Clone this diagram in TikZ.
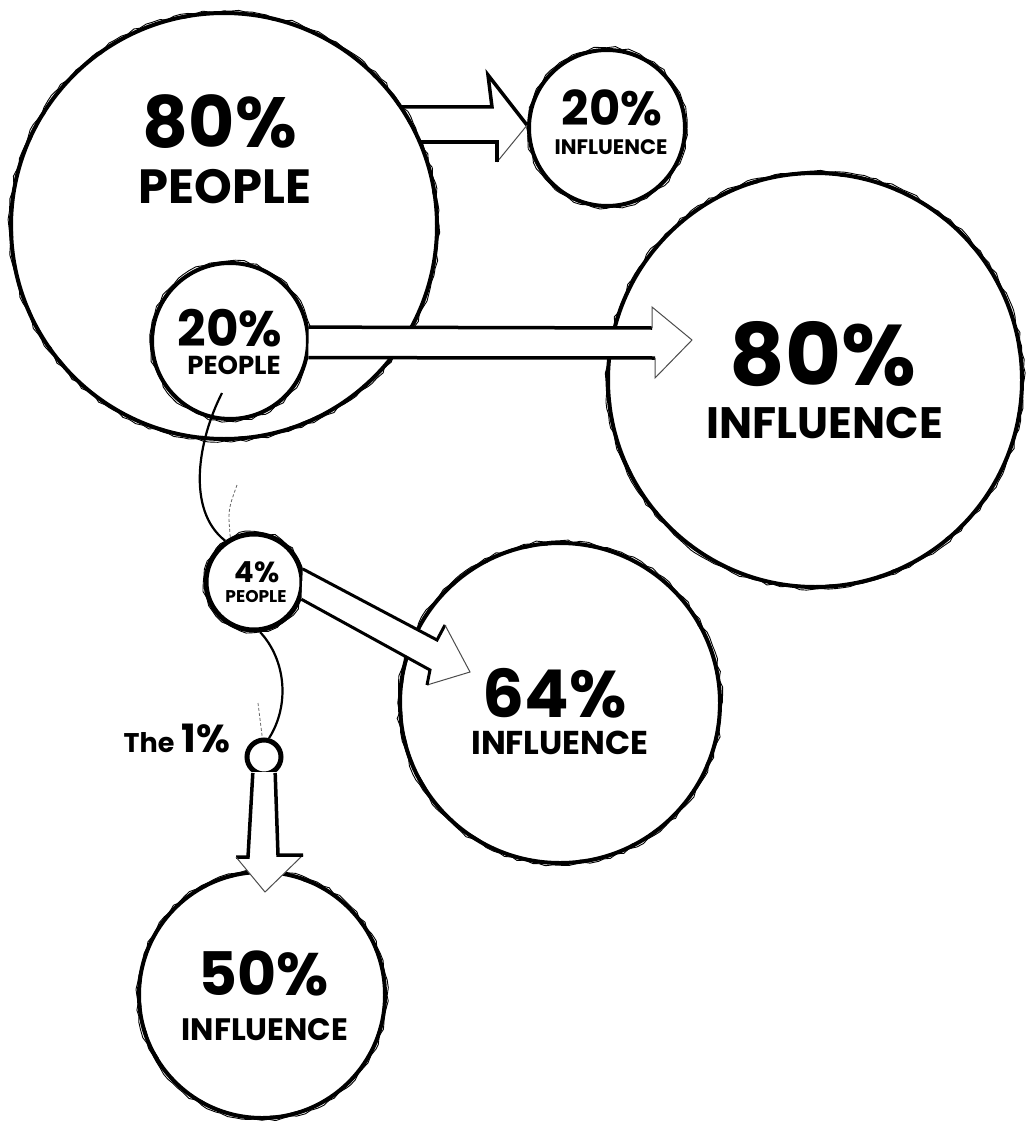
\documentclass[tikz,border=0pt]{standalone}
\usepackage{fontspec}
\setmainfont{Poppins}
\usetikzlibrary{decorations.pathmorphing}
\newcommand\fs[1]{\fontsize{#1}{#1}\selectfont\bfseries}
\tikzset{
  bub/.style={circle, draw=black, line width=4pt, inner sep=0pt, minimum size=#1},
  sketch/.style={draw=black, line width=0.9pt, decorate, decoration={random steps,segment length=7pt,amplitude=1.5pt}},
  lbl/.style={anchor=base, inner sep=0pt},
  thinhead/.style={draw=black!70, line width=1pt},
  conn/.style={draw=black, line width=2.2pt},
  faint/.style={draw=black!60, line width=0.8pt, dash pattern=on 3pt off 2pt},
}
\begin{document}
\begin{tikzpicture}[x=1pt,y=-1pt]
\useasboundingbox (0,0) rectangle (1025,1121);
% circles
\node[bub=426pt] (A) at (224,226) {};
\node[bub=156pt] (B) at (607,128) {};
\node[bub=156pt] (C) at (230,341) {};
\node[bub=414pt] (D) at (815,380) {};
\node[bub=96pt, line width=5pt] (E) at (254,582) {};
\node[bub=320pt] (F) at (560,703) {};
\node[bub=34pt, line width=5pt] (G) at (264,757) {};
\node[bub=246pt] (H) at (262,995) {};
% sketchy overlays
\foreach \n/\r in {A/215,B/80,C/80,D/209,E/50,F/162,H/125}{
  \path[sketch] (\n.center) circle (\r);
  \path[sketch, line width=0.6pt] (\n.center) circle (\r-2.5);
}
% connectors (curves)
\coordinate (c1s) at (222,393);
\draw[conn] (c1s) .. controls (198,440) and (186,510) .. (E.125);
\draw[faint] (237,485) .. controls (228,510) .. (E.118);
\draw[conn] (E.277) .. controls (286,660) and (290,705) .. (G.75);
\draw[faint] (258,703) -- (G.95);
% block arrow 80% people -> 20% influence
\draw[black, line width=3.5pt] (400,107) -- (492,107) -- (488,75) -- (B.178);
\draw[thinhead] (B.178) -- (497,162);
\draw[black, line width=3.5pt] (497,162) -- (497,142) -- (420,142);
% block arrow 20% people -> 80% influence
\fill[white] (C.10) -- (652,328) -- (652,307) -- (692,340) -- (655,378) -- (655,358) -- (C.-12) -- cycle;
\draw[black, line width=3.5pt] (C.10) -- (652,328);
\draw[black, line width=3.5pt] (C.-12) -- (655,358);
\draw[thinhead] (652,328) -- (652,307) -- (692,340) -- (655,378) -- (655,358);
% block arrow 4% people -> 64% influence
\fill[white] (E.15) -- (437,640) -- (445,625) -- (470,672) -- (427,685) -- (430,670) -- (E.-20) -- cycle;
\draw[black, line width=3pt] (E.15) -- (437,640) -- (445,625);
\draw[thinhead] (445,625) -- (470,672) -- (427,685);
\draw[black, line width=3pt] (427,685) -- (430,670) -- (E.-20);
% block arrow 1% -> 50% influence
\fill[white] (248,772) -- (248,857) -- (236,857) -- (265,892) -- (303,855) -- (278,855) -- (278,772) -- cycle;
\draw[black, line width=3.5pt] (G.-125) -- (248,857) -- (236,857);
\draw[thinhead] (236,857) -- (265,892) -- (303,855);
\draw[black, line width=3.5pt] (303,855) -- (278,855) -- (G.-55);
% labels
\node[lbl, font=\fs{71}] (tA1) at (220,147) {80\%};
\node[lbl, font=\fs{48}] (tA2) at (225,203) {PEOPLE};
\node[lbl, font=\fs{48}] (tB1) at (612,126) {20\%};
\node[lbl, font=\fs{21}] (tB2) at (611,154) {INFLUENCE};
\node[lbl, font=\fs{50}] (tC1) at (230,346) {20\%};
\node[lbl, font=\fs{26}] (tC2) at (234,374) {PEOPLE};
\node[lbl, font=\fs{86}] (tD1) at (823,385) {80\%};
\node[lbl, font=\fs{44}] (tD2) at (825,438) {INFLUENCE};
\node[lbl, font=\fs{29}] (tE1) at (257,582) {4\%};
\node[lbl, font=\fs{17}] (tE2) at (256,602) {PEOPLE};
\node[lbl, font=\fs{66}] (tF1) at (555,717) {64\%};
\node[lbl, font=\fs{33}] (tF2) at (560,754) {INFLUENCE};
\node[lbl, font=\fs{60}] (tH1) at (264,995) {50\%};
\node[lbl, font=\fs{31}] (tH2) at (265,1040) {INFLUENCE};
\node[lbl, font=\fs{27}] (tG1) at (149,752) {The};
\node[lbl, font=\fs{39}] (tG2) at (206,752) {1\%};
\end{tikzpicture}
\end{document}
